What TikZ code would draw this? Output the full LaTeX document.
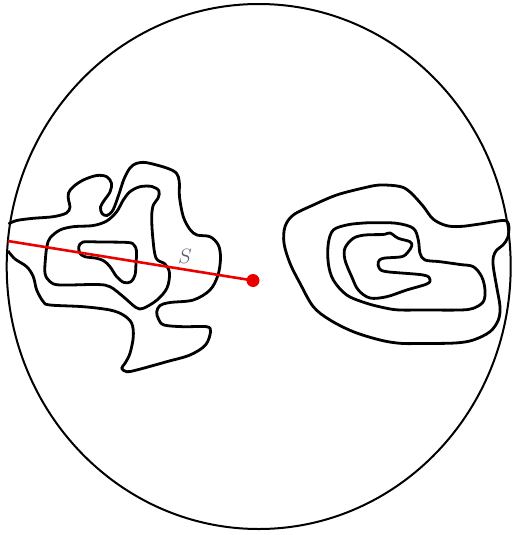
\documentclass[tikz,border=0pt]{standalone}
\definecolor{slabel}{RGB}{85,95,115}
\definecolor{myred}{RGB}{235,0,0}
\tikzset{
  blob/.style={draw=black, line width=2.8pt, line join=round},
  rim/.style={draw=black, line width=2pt},
  ray/.style={draw=myred, line width=2.6pt},
  dotnode/.style={circle, fill=myred, inner sep=0pt, minimum size=13pt},
  lbl/.style={text=slabel, font=\fontsize{20}{20}\selectfont}
}
\begin{document}
\begin{tikzpicture}[x=1pt,y=-1pt]
\useasboundingbox (0,0) rectangle (511,535);
% big circle
\draw[rim] (258.7,266.5) ellipse [x radius=252, y radius=262.5];
% left outer (open, ends on circle)
\draw[blob] plot[smooth, tension=0.55] coordinates {
 (8.5,224) (16.7,220.5) (33.3,218.3) (53.3,216.7) (66.5,213) (70,207) (68.5,200) (68.5,193)
 (73.3,186.7) (83.3,180) (96.7,175.5) (106.7,176.7) (111.5,183.3) (110,192) (104.5,200)
 (100.5,207) (102,213.5) (107,215.5) (113,210) (119,194) (124,179) (130,168) (136.7,163.3)
 (146.7,162.7) (166.7,168) (176.5,173.3) (179.3,182) (179.5,197) (183.3,216.7) (190,229.5)
 (197,235) (210,236.7) (218.3,245) (220.5,258) (218,275) (210,290) (193.3,300) (170,302.5)
 (160,305.5) (156.7,312) (158.5,319) (164,325) (183.3,326.7) (206.7,326.7) (210.5,331.7)
 (205.5,345) (190,355) (166.7,361.7) (136.7,370) (126.7,371.7) (121.7,368.3) (125,363.3)
 (130,353.3) (133.3,336.7) (131.7,323.3) (123.3,315) (110,310) (83.3,306.7) (50,305)
 (43.3,301.7) (36.7,290) (33.3,276.7) (26.7,266.7) (15,259) (8,251)
};
% left middle
\draw[blob] plot[smooth cycle, tension=0.55] coordinates {
 (50,238) (60,230) (73.3,226.7) (93.3,225.5) (106.7,221) (116.7,211.7) (123.3,200)
 (130,191.7) (140,186.7) (152,186.5) (159,191) (158,198.3) (153.3,205) (151.7,216.7)
 (152.7,236.7) (156,258) (165,264) (169.5,273) (167,288) (157,300) (143.3,308.3)
 (136,307.5) (123.3,296.7) (110,286.7) (96.7,284.5) (60,285) (50,281.7) (45,273.3)
 (45.5,258) (47,246)
};
% left inner
\draw[blob] plot[smooth cycle, tension=0.55] coordinates {
 (83,242) (100,242) (128,242.5) (134,245) (136.5,251) (136,263.3) (135,275) (131,281.7)
 (124,282.5) (116.7,276.7) (110,266.7) (104,261) (96.7,258.3) (85,256.7) (80,253.3) (78.8,247)
};
% right outer
\draw[blob] plot[smooth cycle, tension=0.55] coordinates {
 (400,186.5) (410,192) (423,206) (433,219) (446,225.5) (460,226.5) (480,224) (503,220.5)
 (508.5,224) (508,237) (503,245) (496.7,250) (493.3,257) (493.3,267) (496.7,287)
 (500,306.7) (498.3,320) (490,331.7) (473.3,340) (455,343) (420,343.5) (400,343.3)
 (380,340) (353.3,331.7) (330,320) (313.3,306.7) (300,283.3) (290,263.3) (284,243.3)
 (285,226.7) (293.3,215) (313.3,205) (336.7,195) (363.3,188) (380,185)
};
% right middle
\draw[blob] plot[smooth cycle, tension=0.55] coordinates {
 (346.7,225) (360,223.3) (373.3,222.7) (396.7,223.3) (413.3,228.3) (418.3,240) (420,253.3)
 (425,260) (440,261.7) (460,264.5) (473.3,266.7) (481.7,276.7) (485,290) (483.3,301.7)
 (473.3,308.3) (460,310) (423.3,310) (400,310) (386.7,308.3) (366.7,303.3) (346.7,295)
 (333.3,280) (328.3,263.3) (328.3,243.3) (333.3,230)
};
% right inner
\draw[blob] plot[smooth cycle, tension=0.55] coordinates {
 (353.3,238.3) (365,235) (383.3,234.5) (390,233) (398.3,238.3) (410,241.7) (411.7,246)
 (408,252) (401.7,256.7) (383.3,258.3) (378.3,262) (379.3,268.3) (386.7,271.7) (423.3,275)
 (430,279.5) (426.7,284) (406.7,290) (386.7,296.7) (370,298) (358.3,290) (351.7,276.7)
 (345,260) (345,248)
};
% red ray
\coordinate (L) at (7.9,241);
\node[dotnode] (P) at (253,280.5) {};
\draw[ray] (L) -- (P.center);
\node[lbl] (S) at (185,256.5) {$S$};
\end{tikzpicture}
\end{document}
